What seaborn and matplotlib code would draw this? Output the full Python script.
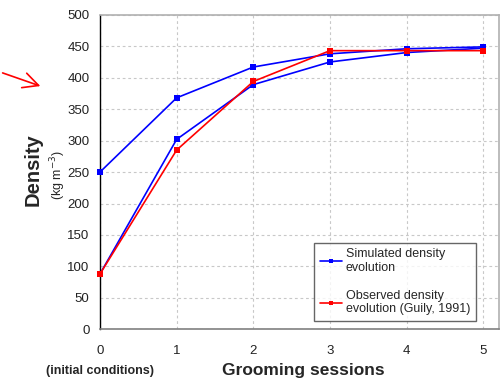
import matplotlib
matplotlib.use("Agg")
import matplotlib.pyplot as plt
from matplotlib.lines import Line2D
from matplotlib.patches import FancyArrowPatch
import seaborn as sns
import pandas as pd

sessions = [0, 1, 2, 3, 4, 5]
sim_run_a = [250, 368, 417, 438, 446, 449]
sim_run_b = [88, 302, 389, 425, 440, 447]
observed = [88, 285, 394, 443, 443, 443]
yticks = [0, 50, 100, 150, 200, 250, 300, 350, 400, 450, 500]
label_sim = "Simulated density\nevolution"
label_obs = "Observed density\nevolution (Guily, 1991)"

rows = []
for x, y in zip(sessions, sim_run_a):
    rows.append(dict(session=x, density=y, series="sim", run="a"))
for x, y in zip(sessions, sim_run_b):
    rows.append(dict(session=x, density=y, series="sim", run="b"))
for x, y in zip(sessions, observed):
    rows.append(dict(session=x, density=y, series="obs", run="c"))
df = pd.DataFrame(rows)

sns.set_style("white")
plt.rcParams['font.family'] = ['Liberation Sans', 'DejaVu Sans']

fig = plt.figure(figsize=(5.04, 3.81), dpi=100)
ax = fig.add_axes([100/504, 1-329.3/381, 399/504, 314.5/381])

sns.lineplot(data=df, x="session", y="density", hue="series", units="run",
             estimator=None, hue_order=["sim", "obs"],
             palette={"sim": "#0000ff", "obs": "#ff0000"},
             marker="s", markersize=4.5, markeredgewidth=0, linewidth=1.2,
             legend=False, ax=ax, clip_on=False, zorder=3)

ax.set_xlim(0, 5.205)
ax.set_ylim(0, 500)
ax.set_xticks(sessions)
ax.set_yticks(yticks)
ax.tick_params(axis='both', labelsize=9.5, colors='#222222', length=5, width=0.9, direction='out')
ax.tick_params(axis='x', pad=6)
ax.tick_params(axis='y', pad=2.5)
ax.set_xlabel("")
ax.set_ylabel("")
ax.grid(True, color='#c8c8c8', linestyle=(0, (2.5, 2.5)), linewidth=0.8)
ax.set_axisbelow(True)
for s in ['top', 'right']:
    ax.spines[s].set_color('#b0b0b0')
    ax.spines[s].set_linewidth(1.2)
ax.spines['bottom'].set_color('#808080')
ax.spines['bottom'].set_linewidth(1.2)
ax.spines['left'].set_color('black')
ax.spines['left'].set_linewidth(1.0)

handles = [Line2D([], [], color='#0000ff', marker='s', markersize=3.5, markeredgewidth=0, linewidth=1.2),
           Line2D([], [], color='#ff0000', marker='s', markersize=3.5, markeredgewidth=0, linewidth=1.2)]
leg = ax.legend(handles, [label_sim, label_obs], loc='lower right',
                bbox_to_anchor=(0.942, 0.026), fontsize=9, frameon=True,
                fancybox=False, edgecolor='#404040', handlelength=1.8,
                handletextpad=0.3, labelspacing=1.25, borderpad=0.45,
                borderaxespad=0)
leg.get_frame().set_linewidth(1.0)
leg.set_zorder(5)

fig.text(303/504, 1-370/381, "Grooming sessions", fontsize=12.5, fontweight='bold',
         ha='center', va='center')
fig.text(100/504, 1-371/381, "(initial conditions)", fontsize=9, fontweight='bold',
         ha='center', va='center')
fig.text(33/504, 1-170/381, "Density", fontsize=14.5, fontweight='bold',
         rotation=90, ha='center', va='center')
fig.text(58/504, 1-175/381, "(kg m$^{-3}$)", fontsize=9,
         rotation=90, ha='center', va='center')

fig.patches.append(FancyArrowPatch(
    (0/504, 1-72/381), (43/504, 1-87/381), transform=fig.transFigure,
    arrowstyle='->,head_length=11,head_width=5.5', mutation_scale=1,
    color='#ff0000', linewidth=1.2))

fig.savefig("out.png", dpi=100)
